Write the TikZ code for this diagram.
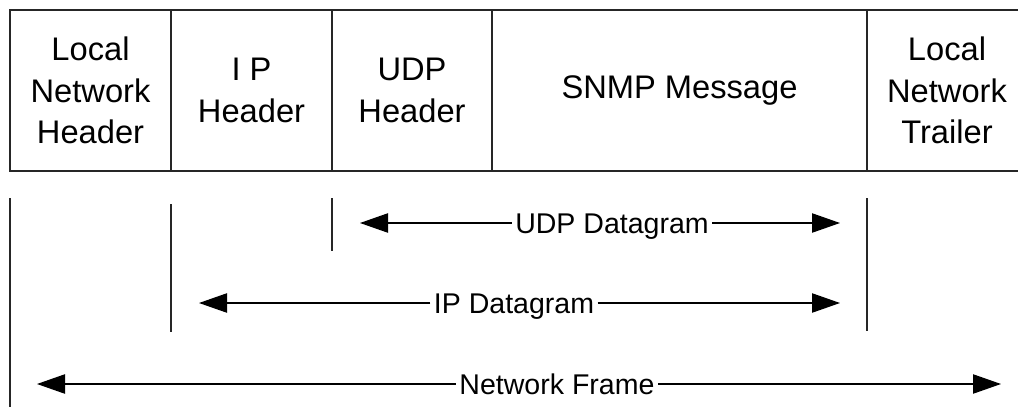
\documentclass[tikz,border=0pt]{standalone}
\usepackage{fontspec}
\setmainfont{Liberation Sans}
\usetikzlibrary{arrows.meta}
\begin{document}
\begin{tikzpicture}[x=0.75pt,y=-0.75pt,
  rule/.style={line width=1.1pt, draw=black!85},
  celltext/.style={align=center, font=\fontsize{24.5}{31}\selectfont, inner sep=0pt},
  sizelbl/.style={font=\fontsize{21.4}{25}\selectfont, text height=15.3pt, text depth=0pt, inner xsep=2.5pt, inner ysep=0pt},
  dimarrow/.style={line width=0.9pt, -{Triangle[length=21pt,width=14.5pt]}},
]
\useasboundingbox (0,0) rectangle (1018,407);
\clip (0,0) rectangle (1018,407);
\fill[white] (0,0) rectangle (1018,407);

% frame cells
\draw[rule] (10,10) rectangle node[celltext] (lnh) {Local\\Network\\Header} (171,171);
\draw[rule] (171,10) rectangle node[celltext] (iph) {I P\\Header} (332,171);
\draw[rule] (332,10) rectangle node[celltext] (udph) {UDP\\Header} (492,171);
\draw[rule] (492,10) rectangle node[celltext] (snmp) {SNMP Message} (867,171);
\draw[rule] (867,10) rectangle node[celltext] (lnt) {Local\\Network\\Trailer} (1027,171);

% boundary marks
\coordinate (m0t) at (10,198);  \coordinate (m0b) at (10,410);
\coordinate (m1t) at (171,204); \coordinate (m1b) at (171,332);
\coordinate (m2t) at (332,198); \coordinate (m2b) at (332,251);
\coordinate (m3t) at (867,198); \coordinate (m3b) at (867,331);
\draw[rule] (m0t) -- (m0b);
\draw[rule] (m1t) -- (m1b);
\draw[rule] (m2t) -- (m2b);
\draw[rule] (m3t) -- (m3b);

% extent arrows
\coordinate (udpL) at (360,223); \coordinate (udpR) at (840,223);
\node[sizelbl] (udp) at (612,223) {UDP Datagram};
\draw[dimarrow] (udp) -- (udpL);
\draw[dimarrow] (udp) -- (udpR);

\coordinate (ipL) at (199,303); \coordinate (ipR) at (840,303);
\node[sizelbl] (ipd) at (514,303) {IP Datagram};
\draw[dimarrow] (ipd) -- (ipL);
\draw[dimarrow] (ipd) -- (ipR);

\coordinate (nfL) at (37,384); \coordinate (nfR) at (1001,384);
\node[sizelbl] (nf) at (557,384) {Network Frame};
\draw[dimarrow] (nf) -- (nfL);
\draw[dimarrow] (nf) -- (nfR);
\end{tikzpicture}
\end{document}
